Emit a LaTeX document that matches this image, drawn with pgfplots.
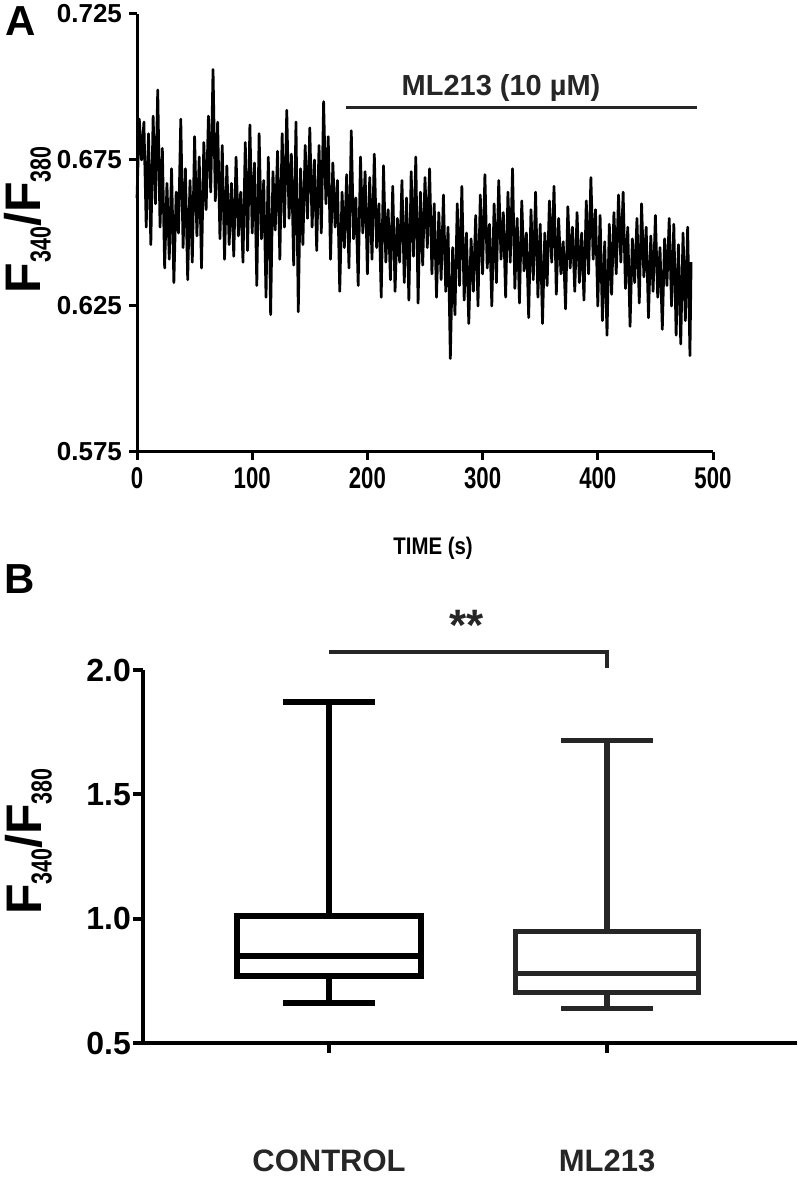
\documentclass[border=0pt]{standalone}
\usepackage{fontspec}
\setmainfont{Liberation Sans}
\newfontfamily\narrowfont[FakeStretch=0.74]{Liberation Sans}
\newfontfamily\semifont[FakeStretch=0.85]{Liberation Sans}
\usepackage{pgfplots}
\usepackage{pgfplotstable}
\pgfplotsset{compat=1.18}
\usepgfplotslibrary{statistics}
\definecolor{dg}{HTML}{262626}

\pgfplotstableread{
t v
0 0.662
2 0.689
4 0.675
6 0.688
8 0.652
10 0.684
12 0.646
14 0.690
16 0.660
18 0.699
20 0.652
22 0.679
24 0.638
26 0.667
28 0.641
30 0.672
32 0.633
34 0.664
36 0.650
38 0.689
40 0.645
42 0.672
44 0.634
46 0.668
48 0.640
50 0.683
52 0.649
54 0.676
56 0.638
58 0.681
60 0.658
62 0.690
64 0.664
66 0.706
68 0.661
70 0.688
72 0.648
74 0.680
76 0.641
78 0.673
80 0.646
82 0.667
84 0.642
86 0.676
88 0.649
90 0.664
92 0.640
94 0.681
96 0.644
98 0.687
100 0.650
102 0.674
104 0.632
106 0.684
108 0.648
110 0.668
112 0.628
114 0.676
116 0.622
118 0.671
120 0.651
122 0.678
124 0.641
126 0.684
128 0.652
130 0.692
132 0.655
134 0.677
136 0.639
138 0.688
140 0.623
142 0.672
144 0.646
146 0.680
148 0.655
150 0.686
152 0.652
154 0.675
156 0.644
158 0.680
160 0.650
162 0.695
164 0.660
166 0.683
168 0.641
170 0.674
172 0.652
174 0.668
176 0.630
178 0.664
180 0.645
182 0.670
184 0.638
186 0.685
188 0.648
190 0.662
192 0.632
194 0.676
196 0.650
198 0.671
200 0.636
202 0.669
204 0.641
206 0.677
208 0.645
210 0.660
212 0.628
214 0.673
216 0.640
218 0.658
220 0.634
222 0.666
224 0.630
226 0.655
228 0.640
230 0.668
232 0.633
234 0.662
236 0.627
238 0.671
240 0.642
242 0.676
244 0.626
246 0.664
248 0.639
250 0.669
252 0.645
254 0.672
256 0.636
258 0.660
260 0.628
262 0.657
264 0.634
266 0.663
268 0.630
270 0.652
272 0.607
274 0.645
276 0.622
278 0.660
280 0.632
282 0.666
284 0.627
286 0.650
288 0.619
290 0.648
292 0.630
294 0.656
296 0.625
298 0.663
300 0.636
302 0.670
304 0.638
306 0.653
308 0.625
310 0.660
312 0.633
314 0.668
316 0.641
318 0.657
320 0.628
322 0.664
324 0.640
326 0.672
328 0.631
330 0.655
332 0.626
334 0.661
336 0.637
338 0.650
340 0.621
342 0.658
344 0.634
346 0.664
348 0.628
350 0.653
352 0.619
354 0.650
356 0.632
358 0.661
360 0.640
362 0.666
364 0.629
366 0.655
368 0.636
370 0.647
372 0.624
374 0.659
376 0.638
378 0.652
380 0.630
382 0.657
384 0.633
386 0.650
388 0.627
390 0.661
392 0.636
394 0.669
396 0.641
398 0.658
400 0.625
402 0.656
404 0.620
406 0.647
408 0.615
410 0.653
412 0.629
414 0.657
416 0.636
418 0.663
420 0.640
422 0.664
424 0.631
426 0.652
428 0.618
430 0.648
432 0.633
434 0.655
436 0.626
438 0.660
440 0.635
442 0.652
444 0.621
446 0.649
448 0.630
450 0.656
452 0.628
454 0.645
456 0.617
458 0.648
460 0.632
462 0.655
464 0.625
466 0.653
468 0.615
470 0.646
472 0.612
474 0.650
476 0.620
478 0.652
480 0.608
481 0.640
}\tracedata

\newcommand{\ratiolabel}{\fontsize{25}{25}\selectfont F\raisebox{-5pt}{\fontsize{14.5}{14.5}\selectfont\narrowfont\bfseries 340}/F\raisebox{-5pt}{\fontsize{14.5}{14.5}\selectfont\narrowfont\bfseries 380}}

\begin{document}
\begin{tikzpicture}[x=1pt,y=1pt]
\useasboundingbox (0,0) rectangle (398.5,598.5);

% ---------- Panel A ----------
\begin{axis}[
  at={(68.5pt,372.5pt)}, anchor=origin,
  scale only axis, width=288pt, height=219pt,
  xmin=0, xmax=500, ymin=0.575, ymax=0.725,
  axis x line*=bottom, axis y line*=left,
  axis line style={-, line width=1.5pt, black},
  xtick={0,100,200,300,400,500},
  ytick={0.575,0.625,0.675,0.725},
  tick align=outside, major tick length=4pt,
  every tick/.style={line width=1.5pt, black},
  /pgf/number format/assume math mode=true,
  xticklabel style={font=\fontsize{15}{15}\selectfont\narrowfont\bfseries},
  yticklabel style={font=\fontsize{13}{13}\selectfont\bfseries,
     /pgf/number format/fixed, /pgf/number format/fixed zerofill,
     /pgf/number format/precision=3},
  xlabel={TIME (s)},
  xlabel style={font=\fontsize{12}{12}\selectfont\semifont\bfseries, at={(axis description cs:0.514,-0.219)}, anchor=center},
  ylabel={\ratiolabel},
  ylabel style={font=\bfseries, at={(axis description cs:-0.19,0.53)}, anchor=center},
  clip=false,
]
\addplot[black, line width=1.35pt, line join=round] table[x=t,y=v] {\tracedata};
\addplot[dg, line width=1.7pt] coordinates {(181,0.693) (486,0.693)};
\node[dg, font=\fontsize{14.5}{14.5}\selectfont\bfseries, anchor=center] at (axis cs:316,0.6997) {ML213 (10 µM)};
\end{axis}

\node[font=\fontsize{21}{21}\selectfont\bfseries, anchor=center] at (10.5,588) {A};
\node[font=\fontsize{21}{21}\selectfont\bfseries, anchor=center] at (10,309) {B};

% ---------- Panel B ----------
\begin{axis}[
  at={(71.5pt,77pt)}, anchor=origin,
  scale only axis, width=327pt, height=186.5pt,
  xmin=0.331, xmax=2.683, ymin=0.5, ymax=2.0,
  axis x line*=bottom, axis y line*=left,
  axis line style={-, line width=2pt, black},
  xtick={1,2}, xticklabels={CONTROL,ML213},
  ytick={0.5,1.0,1.5,2.0},
  tick align=outside, major tick length=5pt,
  every tick/.style={line width=2pt, black},
  /pgf/number format/assume math mode=true,
  xticklabel style={font=\fontsize{15.5}{15.5}\selectfont\bfseries, text=dg, yshift=-45pt},
  yticklabel style={font=\fontsize{16}{16}\selectfont\bfseries, xshift=2.5pt,
     /pgf/number format/fixed, /pgf/number format/fixed zerofill,
     /pgf/number format/precision=1},
  ylabel={\ratiolabel},
  ylabel style={font=\bfseries, at={(axis description cs:-0.175,0.54)}, anchor=center},
  clip=false,
  boxplot/draw direction=y,
]
\addplot[black, line width=3pt, boxplot prepared={
   median=0.848, upper quartile=1.009, lower quartile=0.770,
   upper whisker=1.872, lower whisker=0.662,
   draw position=1, box extend=0.66, whisker extend=0.33}] coordinates {};
\addplot[dg, line width=2.6pt, boxplot prepared={
   median=0.780, upper quartile=0.949, lower quartile=0.702,
   upper whisker=1.717, lower whisker=0.639,
   draw position=2, box extend=0.66, whisker extend=0.33}] coordinates {};
\addplot[dg, line width=2pt, mark=none] coordinates {(1,2.074) (2,2.074) (2,2.007)};
\node[dg, font=\fontsize{22}{22}\selectfont\bfseries, anchor=center] at (axis cs:1.496,2.18) {**};
\end{axis}
\end{tikzpicture}
\end{document}
